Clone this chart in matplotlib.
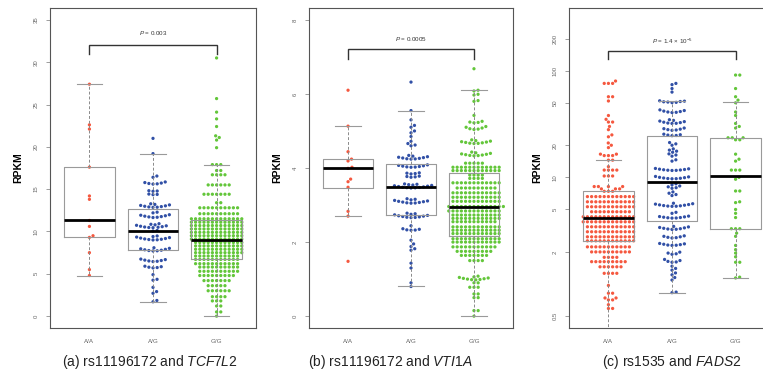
import numpy as np
import matplotlib
matplotlib.use('Agg')
import matplotlib.pyplot as plt

plt.rcParams['font.family'] = ['Liberation Sans', 'DejaVu Sans']
plt.rcParams['mathtext.fontset'] = 'custom'
plt.rcParams['mathtext.rm'] = 'Liberation Sans'
plt.rcParams['mathtext.it'] = 'Liberation Sans:italic'

genotypes = ['A/A', 'A/G', 'G/G']
colors = ['#F5583F', '#3150A6', '#63C63A']

# ---------------- panel (a) rs11196172 / TCF7L2 ----------------
a_AA = [4.8, 5.5, 7.5, 9.3, 9.5, 10.6, 11.3, 13.8, 14.2, 17.6, 22.1, 22.6, 27.4]
a_AG = [1.70, 1.85, 2.70, 2.90, 3.40, 4.25, 4.35, 4.90,
        5.70, 5.74, 5.78, 5.84, 5.90,
        6.45, 6.48, 6.52, 6.57, 6.62, 6.68, 6.74,
        7.70, 7.72, 7.75, 7.79, 7.84, 7.89, 7.95, 8.01, 8.08,
        9.00, 9.02, 9.05, 9.08, 9.12, 9.17, 9.22, 9.28, 9.34, 9.40, 9.47,
        10.05, 10.12,
        10.45, 10.47, 10.50, 10.53, 10.57, 10.62, 10.67, 10.73, 10.79, 10.85, 10.92,
        11.65, 11.68, 11.72, 11.76, 11.81, 11.86, 11.92, 11.98,
        12.20, 12.28,
        12.85, 12.87, 12.90, 12.94, 12.98, 13.03, 13.08, 13.14, 13.20, 13.27,
        14.35, 14.38, 14.42, 14.75, 14.78, 14.82,
        15.60, 15.63, 15.67, 15.72, 15.78, 15.85,
        16.40, 16.55, 19.2, 21.0]
a_GG_vals = [0.0, 0.5, 1.2, 1.8, 2.3, 3.0, 3.6, 4.2, 4.8, 5.3, 5.8, 6.2, 6.7, 7.1, 7.5, 7.9, 8.3,
             8.7, 9.1, 9.5, 9.9, 10.3, 10.7, 11.1, 11.5, 12.1, 12.8, 13.4, 14.4, 15.5, 16.7, 17.2,
             17.9, 19.9, 20.8, 21.1, 21.3, 22.4, 23.3, 24.1, 25.7, 30.5]
a_GG_counts = [1, 2, 2, 3, 4, 6, 5, 7, 9, 10, 10, 11, 11, 11, 12, 12, 12, 12, 13, 13, 13, 13, 13,
               13, 13, 10, 10, 2, 7, 6, 4, 2, 3, 1, 1, 1, 1, 1, 1, 1, 1, 1]
a_q1 = [9.3, 7.8, 6.7]
a_med = [11.3, 10.1, 9.05]
a_q3 = [17.6, 12.6, 11.4]
a_lo = [4.8, 1.7, 0.0]
a_hi = [27.4, 19.2, 17.9]

# ---------------- panel (b) rs11196172 / VTI1A ----------------
b_AA = [1.48, 2.70, 2.83, 3.48, 3.63, 3.70, 3.99, 4.02, 4.19, 4.24, 4.44, 5.13, 6.10]
b_AG = [0.80, 0.90, 1.30, 1.43,
        1.78, 1.82, 1.88, 1.95, 2.05,
        2.32, 2.325, 2.33, 2.345, 2.36, 2.44,
        2.66, 2.665, 2.67, 2.68, 2.69, 2.70, 2.71, 2.72, 2.735, 2.75, 2.765, 2.78,
        3.05, 3.055, 3.06, 3.07, 3.08, 3.09, 3.10, 3.11, 3.125, 3.14, 3.155, 3.17,
        3.46, 3.465, 3.47, 3.475, 3.48, 3.49, 3.50, 3.51, 3.52, 3.53, 3.54, 3.55, 3.56, 3.57,
        3.75, 3.76, 3.77, 3.78, 3.84, 3.85, 3.86, 3.87,
        4.02, 4.025, 4.03, 4.04, 4.05, 4.06, 4.07, 4.085,
        4.24, 4.245, 4.25, 4.26, 4.27, 4.28, 4.29, 4.305, 4.32, 4.34,
        4.60, 4.62, 4.66, 4.72, 4.85, 4.95, 5.00, 5.10, 5.15, 5.30, 5.55, 6.32]
# dense central rows of G/G (value, number of points in the row)
b_GG_vals = [0.0, 0.15, 0.5, 0.6, 0.78, 0.9, 1.5, 1.64, 1.75, 1.87, 2.0, 2.09, 2.23,
             2.32, 2.41, 2.55, 2.64, 2.73, 2.84, 2.96, 3.1, 3.21, 3.33, 3.46, 3.6, 3.72, 3.81,
             3.93, 4.02, 4.13]
b_GG_counts = [1, 2, 2, 2, 3, 2, 4, 7, 9, 11, 12, 12, 12, 12, 12, 11, 12, 12, 13, 14, 12,
               12, 12, 10, 12, 4, 4, 12, 12, 5]
# sparser G/G points forming chevrons
b_GG_extra = [0.98, 0.985, 0.99, 1.0, 1.01, 1.02, 1.03, 1.045, 1.06, 1.08,
              4.33, 4.335, 4.34, 4.35, 4.36, 4.37, 4.38, 4.395, 4.41, 4.43,
              4.66, 4.665, 4.67, 4.68, 4.69, 4.70, 4.71, 4.725, 4.74, 4.76,
              5.04, 5.05, 5.06, 5.08, 5.10, 5.12, 5.22, 5.23, 5.24, 5.26,
              5.42, 5.80, 5.82, 5.97, 5.99, 6.08, 6.10, 6.68]
b_q1 = [3.47, 2.72, 2.17]
b_med = [3.99, 3.49, 2.94]
b_q3 = [4.24, 4.10, 3.86]
b_lo = [2.70, 0.81, 0.0]
b_hi = [5.13, 5.55, 6.10]

# ---------------- panel (c) rs1535 / FADS2 (log scale) ----------------
c_AA_vals = [0.59, 0.64, 0.71, 0.74, 0.82, 0.97, 1.26, 1.45, 1.62, 1.78, 2.0, 2.23, 2.54, 2.77,
             3.09, 3.44, 3.83, 4.27, 4.76, 5.3, 5.9, 6.6, 7.4, 7.8, 8.2, 10.3, 11.7, 12.6, 14.5,
             16.0, 16.5, 19, 20, 21, 24, 25, 28, 30, 33, 35, 38, 52, 57, 76, 80]
c_AA_counts = [2, 1, 2, 2, 2, 1, 4, 6, 9, 4, 10, 11, 12, 12, 12, 12, 13, 13, 10, 12, 12, 12, 3,
               3, 4, 3, 4, 1, 2, 3, 2, 1, 1, 1, 1, 1, 1, 1, 2, 1, 1, 1, 2, 3, 1]
c_AG = [0.83, 0.84,
        1.09, 1.15, 1.22, 1.27, 1.35, 1.40, 1.47,
        1.60, 1.61, 1.63, 1.66, 1.70, 1.90, 1.92, 1.95, 1.99,
        2.30, 2.31, 2.32, 2.34, 2.36, 2.38, 2.40, 2.70, 2.72, 2.74, 2.77, 2.80, 2.83,
        3.25, 3.26, 3.28, 3.30, 3.33, 3.36, 3.39, 3.43, 3.47,
        4.15, 4.16, 4.18, 4.20, 4.23, 4.26, 4.29, 4.33, 4.60, 4.70,
        5.35, 5.36, 5.38, 5.41, 5.44, 5.48, 5.52, 5.56, 5.61, 5.66, 5.72,
        6.75, 6.90, 7.10, 7.30,
        7.90, 8.00, 8.15, 8.30, 8.50, 8.70,
        9.70, 9.72, 9.75, 9.80, 9.86, 9.93, 10.0, 10.1, 10.2,
        11.6, 11.63, 11.67, 11.72, 11.78, 11.85, 11.93, 12.02, 12.12,
        14.2, 14.6, 15.8, 16.2, 16.6,
        17.2, 17.6, 18.0, 18.5, 20.0, 20.6, 21.2,
        24.6, 24.7, 24.9, 25.1, 25.4, 27.6, 27.8, 28.0, 28.3, 28.6, 29.0,
        32.0, 32.1, 32.3, 32.6, 32.9, 33.3, 33.7, 34.2, 34.7,
        40.5, 40.7, 41.0, 41.4, 41.8, 42.3, 42.9,
        50.2, 50.5, 50.8, 51.1, 51.4, 51.8, 52.2,
        63, 68, 74, 76]
c_GG = [1.14, 1.16, 1.6, 1.6, 1.8, 1.95, 2.1, 2.3, 2.8, 3.0, 3.3, 3.3, 3.3, 4.2, 4.6, 5.0, 5.8,
        5.9, 7.45, 7.45, 9.6, 10, 11.7, 11.7, 11.7, 14.2, 14.8, 16.5, 22.5, 22.5, 23.5, 23.5,
        23.5, 29, 30, 32, 38, 41, 50, 53, 57, 68, 91, 91]
c_q1 = [2.51, 3.9, 3.25]
c_med = [4.16, 9.1, 10.3]
c_q3 = [7.45, 24.5, 23.2]
c_lo = [0.2, 0.83, 1.15]
c_hi = [14.4, 52, 50.5]

p_texts = [r'$P$ = 0.003', r'$P$ = 0.0005', r'$P$ = 1.4 × 10$^{-5}$']
bracket_y = [(32.0, 31.0, 33.4), (7.2, 6.95, 7.47), (154, 128, 189)]
captions = [r'(a) rs11196172 and $\mathit{TCF7L2}$',
            r'(b) rs11196172 and $\mathit{VTI1A}$',
            r'(c) rs1535 and $\mathit{FADS2}$']
caption_x = [150, 390, 672]

groups = [
    [a_AA, a_AG, np.repeat(a_GG_vals, a_GG_counts)],
    [b_AA, b_AG, np.concatenate([np.repeat(b_GG_vals, b_GG_counts), b_GG_extra])],
    [np.repeat(c_AA_vals, c_AA_counts), c_AG, c_GG],
]
box_stats = [(a_q1, a_med, a_q3, a_lo, a_hi), (b_q1, b_med, b_q3, b_lo, b_hi),
             (c_q1, c_med, c_q3, c_lo, c_hi)]

W, H = 763, 374
fig = plt.figure(figsize=(W / 100, H / 100), dpi=100)
fig.patch.set_facecolor('white')

ax_px = [(50, 206), (309, 204), (569, 206)]
top_px, bot_px = 8, 328
ylims = [(-1.4, 36.4), (-0.32, 8.32), (0.387, 387)]
yticks = [[0, 5, 10, 15, 20, 25, 30, 35], [0, 2, 4, 6, 8], [0.5, 2, 5, 10, 20, 50, 100, 200]]
ytl = [[str(t) for t in yticks[0]], [str(t) for t in yticks[1]],
       ['0.5', '2', '5', '10', '20', '50', '100', '200']]

DX, DY = 4.2, 3.3


def swarm_x(ax, xc, ys):
    ys = np.asarray(ys, dtype=float)
    pts = ax.transData.transform(np.column_stack([np.full(len(ys), float(xc)), ys]))
    ypx = pts[:, 1]
    order = np.argsort(ypx, kind='stable')
    px_list, py_list = [], []
    off = np.zeros(len(ys))
    for i in order:
        y = ypx[i]
        px = np.array(px_list)
        py = np.array(py_list)
        cands = [0.0]
        npx = np.array([])
        npy = np.array([])
        if len(px):
            m = np.abs(y - py) < DY
            npx, npy = px[m], py[m]
            if len(npx):
                dx = DX * np.sqrt(np.maximum(1 - ((y - npy) / DY) ** 2, 0))
                cands += list(npx + dx) + list(npx - dx)
        cands = sorted(cands, key=lambda c: (round(abs(c), 6), -c))
        chosen = 0.0
        for c in cands:
            if len(npx) == 0 or np.all(((npx - c) / DX) ** 2 + ((npy - y) / DY) ** 2 >= 1 - 1e-6):
                chosen = c
                break
        off[i] = chosen
        px_list.append(chosen)
        py_list.append(y)
    x0 = ax.transData.transform((xc, 1.0))[0]
    x1 = ax.transData.transform((xc + 1, 1.0))[0]
    return xc + off / (x1 - x0), ys


for k in range(3):
    left, width = ax_px[k]
    ax = fig.add_axes([left / W, (H - bot_px) / H, width / W, (bot_px - top_px) / H])
    if k == 2:
        ax.set_yscale('log')
    ax.set_xlim(0.38, 3.62)
    ax.set_ylim(*ylims[k])
    ax.set_yticks(yticks[k])
    ax.set_yticklabels(ytl[k])
    ax.minorticks_off()
    ax.set_xticks([1, 2, 3])
    ax.set_xticklabels(genotypes)
    ax.tick_params(axis='y', length=3, width=0.5, color='#777777', labelsize=4.3,
                   labelcolor='#666666', labelrotation=90, pad=5)
    for lab in ax.get_yticklabels():
        lab.set_va('center')
    ax.tick_params(axis='x', length=0, labelsize=4.5, labelcolor='#666666', pad=8)
    for s in ax.spines.values():
        s.set_color('#555555')
        s.set_linewidth(0.8)

    for g in range(3):
        xs, ys = swarm_x(ax, g + 1, groups[k][g])
        ax.scatter(xs, ys, s=5.5, color=colors[g], edgecolors='none', zorder=2)

    q1, med, q3, lo, hi = box_stats[k]
    stats = [dict(q1=q1[g], med=med[g], q3=q3[g], whislo=lo[g], whishi=hi[g], fliers=[])
             for g in range(3)]
    ax.bxp(stats, positions=[1, 2, 3], widths=0.8, capwidths=0.4, showfliers=False,
           manage_ticks=False,
           boxprops=dict(color='#9a9a9a', lw=0.8),
           whiskerprops=dict(color='#8a8a8a', lw=0.7, ls=(0, (3, 2))),
           capprops=dict(color='#9a9a9a', lw=0.8),
           medianprops=dict(color='black', lw=2.0, solid_capstyle='butt'),
           zorder=3)

    yb, ye, yt = bracket_y[k]
    ax.plot([1, 1, 3, 3], [ye, yb, yb, ye], color='#333333', lw=1.0, zorder=4,
            solid_joinstyle='miter')
    ax.text(2, yt, p_texts[k], ha='center', va='center', fontsize=4.5, color='#333333')

    fig.text((left - 32) / W, (H - 168) / H, 'RPKM', rotation=90, ha='center', va='center',
             fontsize=7.5, fontweight='bold')
    fig.text(caption_x[k] / W, (H - 362) / H, captions[k], ha='center', va='center',
             fontsize=10, color='#222222')

fig.savefig('out.png', dpi=100, facecolor='white')
